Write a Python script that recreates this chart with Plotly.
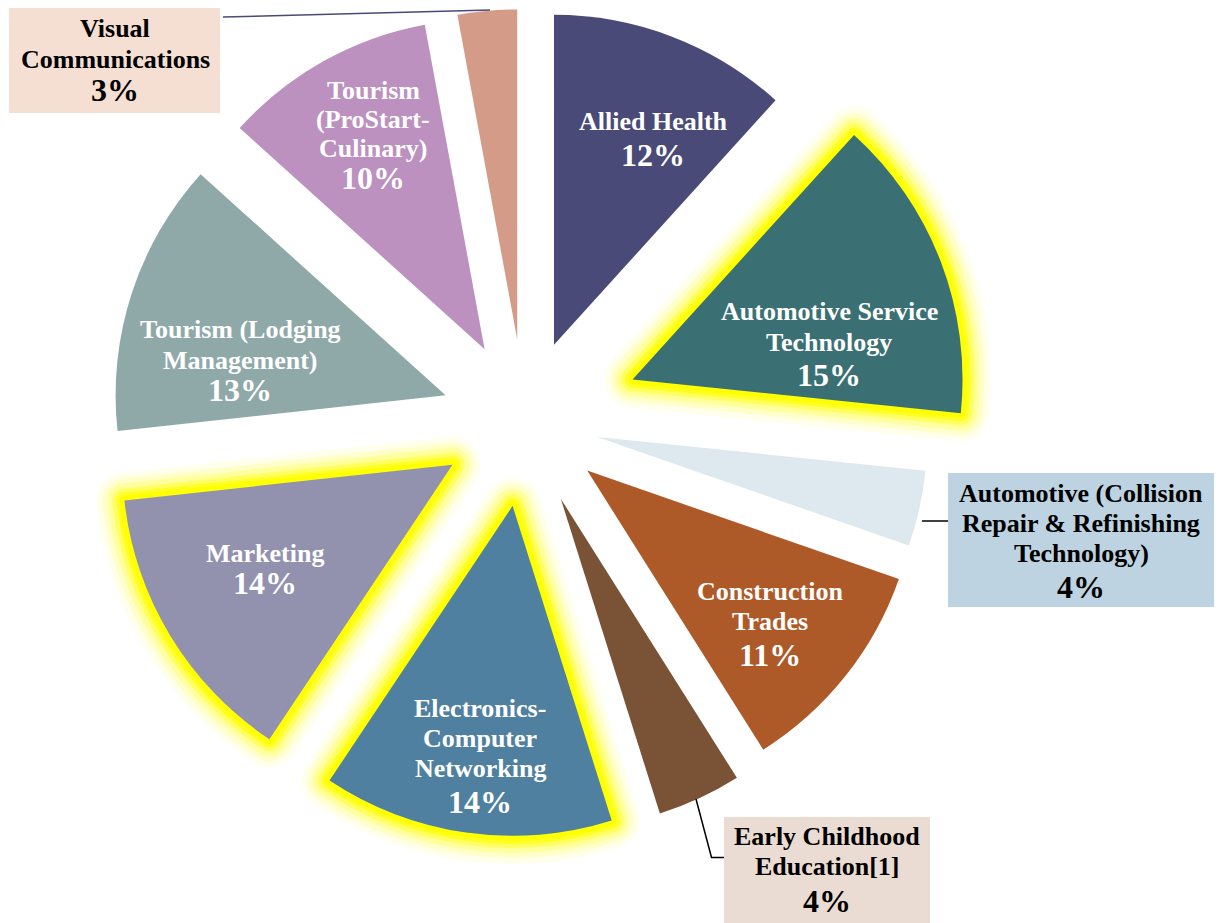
import math
import plotly.graph_objects as go

# ---------------- data ----------------
categories = [
    "Allied Health",
    "Automotive Service Technology",
    "Automotive (Collision Repair & Refinishing Technology)",
    "Construction Trades",
    "Early Childhood Education[1]",
    "Electronics-Computer Networking",
    "Marketing",
    "Tourism (Lodging Management)",
    "Tourism (ProStart-Culinary)",
    "Visual Communications",
]
# slice shares (labels show them rounded)
values = [11.7, 14.9, 3.7, 10.7, 4.1, 14.2, 13.9, 13.4, 10.4, 2.9]
pct_labels = ["12%", "15%", "4%", "11%", "4%", "14%", "14%", "13%", "10%", "3%"]
label_lines = [
    ["Allied Health"],
    ["Automotive Service", "Technology"],
    ["Automotive (Collision", "Repair & Refinishing", "Technology)"],
    ["Construction", "Trades"],
    ["Early Childhood", "Education[1]"],
    ["Electronics-", "Computer", "Networking"],
    ["Marketing"],
    ["Tourism (Lodging", "Management)"],
    ["Tourism", "(ProStart-", "Culinary)"],
    ["Visual", "Communications"],
]
colors = ["#4A4A78", "#3A7073", "#DDE8EF", "#AD5A28", "#7A5236",
          "#5080A0", "#9292AE", "#8FA9A9", "#BC90BF", "#D49C88"]
pulls = [0.247, 0.35, 0.225, 0.242, 0.26, 0.26, 0.256, 0.252, 0.249, 0.248]
glow = [False, True, False, False, False, True, True, False, False, False]

# ---------------- layout constants (reference pixel space) ----------------
OFF = 8                      # page body margin
W, H = 1224 - OFF, 923 - OFF
CX, CY, R = 524.7, 420.9, 330.0
TRANSP = "rgba(0,0,0,0)"
FONT = "Liberation Serif"
N = len(values)


def px(x):
    return (x - OFF) / W


def py(y):
    return 1 - (y - OFF) / H


def slice_domain(i):
    """Each exploded slice is drawn by its own pie whose centre is shifted
    along the slice bisector by pull * radius."""
    total = sum(values)
    mid = (sum(values[:i]) + values[i] / 2) / total * 2 * math.pi
    cx = CX + pulls[i] * R * math.sin(mid)
    cy = CY - pulls[i] * R * math.cos(mid)
    y0 = min(1.0, max(0.0, py(cy + R)))
    y1 = min(1.0, max(0.0, py(cy - R)))
    return dict(x=[px(cx - R), px(cx + R)], y=[y0, y1])


def pie(i, fill, line_color=TRANSP, line_width=0, hover=False):
    cols = [TRANSP] * N
    lcs = [TRANSP] * N
    cols[i] = fill
    lcs[i] = line_color
    return go.Pie(
        values=values, labels=categories, sort=False, direction="clockwise",
        rotation=0, domain=slice_domain(i), textinfo="none",
        marker=dict(colors=cols, line=dict(color=lcs, width=line_width)),
        showlegend=False,
        hoverinfo="label+percent" if hover else "skip")


fig = go.Figure()

glow_layers = [(56, 0.08), (44, 0.14), (34, 0.22), (24, 0.38), (16, 0.6), (10, 0.9)]
for i in range(N):
    if glow[i]:
        for w, a in glow_layers:
            fig.add_trace(pie(i, TRANSP, f"rgba(255,255,0,{a})", w))
for i in range(N):
    fig.add_trace(pie(i, colors[i], hover=True))

# ---------------- labels ----------------
# slice index -> (centre x, y of each text line incl. percent, text colour)
label_pos = {
    0: (653, [121.7, 155], "white"),
    1: (829, [311.7, 342.7, 375], "white"),
    2: (1081, [493, 523, 553, 587], "black"),
    3: (770, [591.7, 621.7, 655], "white"),
    4: (827, [836, 866, 901], "black"),
    5: (480, [708.3, 738.3, 768.3, 801.7], "white"),
    6: (265, [553.3, 583.3], "white"),
    7: (240, [329.3, 360, 390], "white"),
    8: (373, [90.7, 119.3, 149, 178.3], "white"),
    9: (115, [28.3, 59.3, 90], "black"),
}

annotations = []
for i, (x, ys, col) in label_pos.items():
    lines = label_lines[i] + [pct_labels[i]]
    for j, (txt, y) in enumerate(zip(lines, ys)):
        is_pct = j == len(lines) - 1
        annotations.append(dict(
            x=px(x), y=py(y), xref="paper", yref="paper",
            xanchor="center", yanchor="middle", showarrow=False,
            text=f"<b>{txt.replace('&', '&amp;')}</b>",
            font=dict(family=FONT, size=32 if is_pct else 26, color=col)))


def rect(x0, y0, x1, y1, c):
    return dict(type="rect", xref="paper", yref="paper", layer="below",
                x0=px(x0), y0=py(y1), x1=px(x1), y1=py(y0),
                fillcolor=c, line=dict(width=0))


shapes = [
    rect(9, 6, 220, 113, "#F5DED2"),
    rect(948, 473, 1214, 607, "#BDD3E1"),
    rect(724, 817, 930, 923, "#EADCD2"),
    dict(type="line", xref="paper", yref="paper",
         x0=px(223), y0=py(17), x1=px(490), y1=py(10),
         line=dict(color="#4A4A78", width=1.5)),
    dict(type="line", xref="paper", yref="paper",
         x0=px(922), y0=py(521), x1=px(948), y1=py(521),
         line=dict(color="black", width=1.5)),
    dict(type="path", xref="paper", yref="paper",
         path=f"M {px(696)} {py(799)} L {px(711.5)} {py(857.5)} L {px(724)} {py(857.5)}",
         line=dict(color="black", width=1.5)),
]

fig.update_layout(
    width=W, height=H,
    margin=dict(l=0, r=0, t=0, b=0),
    paper_bgcolor="white", plot_bgcolor="white",
    annotations=annotations, shapes=shapes,
)

fig.write_html("out.html")
